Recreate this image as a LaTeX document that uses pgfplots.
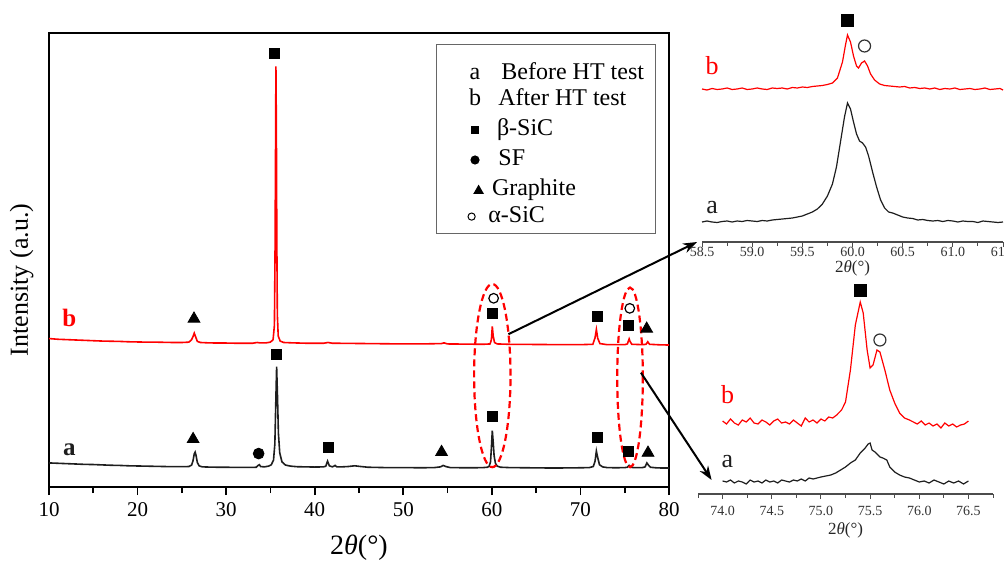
\documentclass[border=0pt]{standalone}
\usepackage{fontspec}
\setmainfont{Liberation Serif}
\usepackage{pgfplots}
\pgfplotsset{compat=1.18}
\usetikzlibrary{arrows.meta}

\definecolor{curvea}{RGB}{30,30,30}
\definecolor{curveb}{RGB}{255,0,0}

\tikzset{letter/.style={font=\fontsize{13}{15}\selectfont}}
\pgfplotsset{
  inset/.style={
    scale only axis, clip=false,
    axis x line*=bottom, axis y line=none,
    ymin=0, tick align=outside,
    major tick length=2.6pt, minor tick length=1.8pt,
    x axis line style={black!70, line width=0.6pt},
    every tick/.style={black!70, line width=0.5pt},
    /pgf/number format/assume math mode=true,
    /pgf/number format/fixed,
    /pgf/number format/fixed zerofill,
    /pgf/number format/precision=1,
    xticklabel style={font=\fontsize{7}{8}\selectfont, text=black!80},
    xlabel={2\textit{θ}(°)},
    xlabel style={font=\fontsize{8.5}{10}\selectfont, text=black!85},
  },
}

\begin{document}
\begin{tikzpicture}
\useasboundingbox (0,0) rectangle (502.5pt,281.5pt);

% ---------------- main pattern ----------------
\begin{axis}[
  at={(24.5pt,38pt)}, anchor=south west,
  scale only axis, width=310pt, height=227pt,
  xmin=10, xmax=80, ymin=0, ymax=1263,
  xtick={10,20,...,80}, minor x tick num=1, ytick=\empty,
  tick align=outside, xtick pos=left,
  major tick length=4pt, minor tick length=3pt,
  axis line style={line width=0.9pt},
  every tick/.style={black, line width=0.8pt},
  /pgf/number format/assume math mode=true,
  xticklabel style={font=\fontsize{10.5}{12}\selectfont},
  xlabel={2\textit{θ}(°)},
  xlabel style={font=\fontsize{14}{16}\selectfont, at={(axis description cs:0.5,-0.134)}, anchor=center},
  ylabel={Intensity (a.u.)},
  ylabel style={font=\fontsize{13}{15}\selectfont, at={(axis description cs:-0.044,0.456)}, anchor=center},
]
% a: before HT test
\addplot[curvea, line width=0.8pt] coordinates {
(10,67) (11,66) (12,65) (13,64) (14,63) (15,62.5) (16,61.5) (17,60.5) (18,60) (19,59)
(20,58.5) (21,58) (22,57.5) (23,57) (24,56.5) (25,56.5) (25.8,57) (26.1,61) (26.25,72)
(26.4,92) (26.5,97) (26.6,88) (26.75,68) (26.95,59) (27.3,56) (28,55.5) (29,55) (30,55)
(31,54.5) (32,54.5) (33,54.5) (33.4,55) (33.6,60) (33.75,62) (33.9,57) (34.3,56) (34.8,58)
(35.1,62) (35.35,75) (35.5,120) (35.6,230) (35.7,335) (35.8,250) (35.9,150) (36.05,95)
(36.3,70) (36.7,61) (37.3,58) (38,56.5) (39,56) (40,55.5) (41,56) (41.25,58) (41.45,72)
(41.65,59) (42,56) (42.3,60) (42.5,56) (43,56) (43.8,57) (44.5,59) (45.2,57) (46,55)
(47,54.5) (48,54) (50,54) (52,53.5) (53.5,54) (54.2,56) (54.5,60) (54.8,57) (55.3,54)
(57,53.5) (58,53.5) (59,54) (59.5,55) (59.7,58) (59.85,70) (59.95,110) (60.05,157)
(60.15,125) (60.25,88) (60.4,66) (60.6,58) (61,55) (62,54) (64,53.5) (66,53) (68,53)
(70,53.5) (71,54) (71.45,57) (71.65,72) (71.8,100) (71.95,82) (72.15,62) (72.5,56) (73,54)
(74,53.5) (75,54) (75.3,55) (75.5,60) (75.7,55) (76,54) (77,54) (77.3,56) (77.5,67)
(77.7,60) (77.9,55) (78.5,53.5) (79,53) (80,53)
};
% b: after HT test
\addplot[curveb, line width=0.8pt] coordinates {
(10,413) (11,411) (12,410) (13,409) (14,408) (15,407) (16,406) (17,405.5) (18,405) (19,404)
(20,403.5) (21,403) (22,403) (23,402.5) (24,402) (25,402) (25.8,403) (26.1,410) (26.25,418)
(26.4,428) (26.55,418) (26.75,405) (27.1,402) (28,401) (29,400.5) (30,400.5) (31,400)
(32,400) (33,400) (33.5,402) (33.8,401) (34.5,401) (35,403) (35.3,410) (35.45,450)
(35.52,650) (35.58,950) (35.62,1170) (35.67,1000) (35.72,700) (35.78,480) (35.88,420)
(36.1,406) (36.5,402) (37.5,401) (39,400) (41,400) (41.5,402) (42,400) (44,399.5) (46,399)
(48,398.5) (50,398) (52,398) (54.3,399) (54.6,401) (55,398) (57,397.5) (59,397) (59.8,398)
(59.95,410) (60.05,447) (60.15,420) (60.3,402) (60.6,398) (62,397) (65,396.5) (68,396)
(70,396) (71.4,397) (71.65,415) (71.8,438) (71.95,414) (72.2,399) (73,396) (75,396)
(75.3,398) (75.5,412) (75.6,405) (75.8,397) (77,396) (77.4,397) (77.6,404) (77.8,397)
(79,395.5) (80,395)
};
% phase markers
\addplot[only marks, mark=square*, black, mark size=2.5pt] coordinates {
(35.43,1205) (60.1,482) (71.94,475) (75.47,450)
(35.68,370) (41.52,110) (60.11,197) (71.94,138) (75.47,100)
};
\addplot[only marks, mark=triangle*, black, mark size=3.4pt] coordinates {
(26.37,468) (77.48,440) (26.27,133) (54.32,97) (77.63,95)
};
\addplot[only marks, mark=*, black, mark size=2.7pt] coordinates {(33.67,93)};
\addplot[only marks, mark=o, black, mark size=2.4pt, line width=0.6pt] coordinates {
(60.2,525) (75.57,497)
};
\node[font=\bfseries\fontsize{12.5}{14}\selectfont, text=curveb] at (axis cs:12.3,470) {b};
\node[font=\bfseries\fontsize{12.5}{14}\selectfont, text=curvea] at (axis cs:12.3,105) {a};
\draw[curveb, line width=1.1pt, dash pattern=on 3.5pt off 2pt]
  (axis cs:60.05,310) ellipse [x radius=9.1pt, y radius=45.8pt];
\draw[curveb, line width=1.1pt, dash pattern=on 3.5pt off 2pt]
  (axis cs:75.6,305) ellipse [x radius=6.4pt, y radius=44.9pt];
\coordinate (A1) at (axis cs:61.87,425);
\coordinate (A2) at (axis cs:76.83,318);
\end{axis}

% legend box
\draw[black!60, line width=0.5pt] (218pt,165pt) rectangle (327.5pt,259pt);
\begin{scope}[every node/.style={font=\fontsize{12}{14}\selectfont, inner sep=0pt, text height=1.6ex, text depth=0.3ex}]
\node at (237.5pt,244.8pt) {a};
\node[anchor=west] at (250.5pt,244.8pt) {Before HT test};
\node at (237.5pt,231.5pt) {b};
\node[anchor=west] at (249pt,231.5pt) {After HT test};
\fill (235.5pt,214.5pt) rectangle (239.5pt,218.5pt);
\node[anchor=west] at (248.3pt,216.5pt) {β-SiC};
\fill (237.5pt,201.5pt) circle (2.3pt);
\node[anchor=west] at (249pt,201.5pt) {SF};
\fill (236.6pt,184.5pt) -- (242pt,184.5pt) -- (239.3pt,189.2pt) -- cycle;
\node[anchor=west] at (245.8pt,186.5pt) {Graphite};
\draw[line width=0.5pt] (235.8pt,173.2pt) circle (1.8pt);
\node[anchor=west] at (244pt,173.2pt) {α-SiC};
\end{scope}

% arrows to the insets
\draw[-{Stealth[length=7pt,width=5pt]}, line width=1pt] (A1) -- (348.5pt,160.5pt);
\draw[-{Stealth[length=7pt,width=5pt]}, line width=1pt] (A2) -- (355.8pt,41.5pt);

% ---------------- inset 1: 58.5-61.5 ----------------
\begin{axis}[inset,
  at={(351pt,160.5pt)}, anchor=south west,
  width=150.5pt, height=121pt,
  xmin=58.5, xmax=61.5, ymax=242,
  xtick={58.5,59,...,61.5}, minor x tick num=1,
  xticklabel style={yshift=3.5pt},
  xlabel style={at={(axis description cs:0.5,-0.11)}, anchor=center},
]
\addplot[curveb, line width=0.6pt] coordinates {
(58.5,153) (58.55,152) (58.6,153.5) (58.65,152.5) (58.7,153) (58.75,154) (58.8,152.5)
(58.85,153) (58.9,154) (58.95,152.5) (59.0,153) (59.05,154) (59.1,153) (59.15,152.5)
(59.2,154) (59.25,153.5) (59.3,154) (59.35,153) (59.4,154.5) (59.45,154) (59.5,155)
(59.55,154.5) (59.6,155.5) (59.65,156) (59.7,156.5) (59.75,157.5) (59.8,159) (59.85,164)
(59.9,180) (59.93,197) (59.95,207) (59.98,200) (60.01,186) (60.04,176) (60.06,174)
(60.09,179) (60.12,181) (60.15,176) (60.18,168) (60.22,162) (60.27,158) (60.32,156.5)
(60.37,156) (60.42,155.5) (60.47,155) (60.52,155.5) (60.57,154) (60.62,154.5) (60.67,153.5)
(60.72,154) (60.77,153) (60.82,154) (60.87,152.5) (60.92,153.5) (60.97,153) (61.02,154)
(61.07,152.5) (61.12,153) (61.17,153.5) (61.22,152.5) (61.27,153) (61.32,154) (61.37,152.5)
(61.42,153) (61.47,153.5) (61.5,152)
};
\addplot[curvea, line width=0.6pt] coordinates {
(58.5,20) (58.55,21) (58.6,20) (58.65,19.5) (58.7,20.5) (58.75,21) (58.8,20) (58.85,21)
(58.9,20.5) (58.95,21.5) (59.0,21) (59.05,20.5) (59.1,21.5) (59.15,21) (59.2,22)
(59.25,22.5) (59.3,23) (59.35,23.5) (59.4,24) (59.45,25) (59.5,26) (59.55,28) (59.6,30)
(59.65,33) (59.7,38) (59.75,46) (59.8,58) (59.84,75) (59.88,100) (59.92,125) (59.95,139)
(59.98,133) (60.01,120) (60.04,108) (60.07,101) (60.1,99) (60.13,95) (60.16,86) (60.2,70)
(60.24,55) (60.28,42) (60.32,34) (60.36,30) (60.4,29) (60.45,27) (60.5,25) (60.55,24)
(60.6,23.5) (60.65,22) (60.7,22.5) (60.75,21.5) (60.8,21) (60.85,21.5) (60.9,20.5)
(60.95,21.5) (61.0,21) (61.05,20) (61.1,21) (61.15,20.5) (61.2,20.5) (61.25,19.5)
(61.3,21) (61.35,20.5) (61.4,20) (61.45,19.5) (61.5,20)
};
\addplot[only marks, mark=square*, black, mark size=3pt] coordinates {(59.95,222)};
\addplot[only marks, mark=o, black!80, mark size=3pt, line width=0.6pt] coordinates {(60.12,196)};
\node[letter, text=curveb] at (axis cs:58.6,176) {b};
\node[letter, text=curvea] at (axis cs:58.6,34) {a};
\end{axis}

% ---------------- inset 2: 74.0-76.5 ----------------
\begin{axis}[inset,
  at={(349pt,34.5pt)}, anchor=south west,
  width=147.5pt, height=107pt,
  xmin=73.75, xmax=76.75, ymax=214,
  xtick={74,74.5,...,76.5},
  minor xtick={73.75,74.25,74.75,75.25,75.75,76.25,76.75},
  xlabel style={at={(axis description cs:0.5,-0.17)}, anchor=center},
]
\addplot[curveb, line width=0.6pt] coordinates {
(74.0,73) (74.04,70) (74.08,75) (74.12,71) (74.16,69) (74.2,74) (74.24,72) (74.28,76)
(74.32,71) (74.36,70) (74.4,74) (74.44,72) (74.48,69) (74.52,73) (74.56,75) (74.6,71)
(74.64,72) (74.68,70) (74.72,74) (74.76,71) (74.8,68) (74.84,76) (74.88,72) (74.92,74)
(74.96,71) (75.0,75) (75.04,73) (75.08,77) (75.12,76) (75.16,79) (75.19,82) (75.21,84)
(75.25,92) (75.3,124) (75.35,169) (75.4,192) (75.43,181) (75.47,144) (75.5,126)
(75.53,129) (75.57,144) (75.6,142) (75.65,124) (75.7,104) (75.75,91) (75.8,81) (75.85,76)
(75.9,74) (75.94,72) (75.98,70) (76.02,73) (76.06,69) (76.1,71) (76.14,68) (76.18,70)
(76.22,66) (76.26,71) (76.3,68) (76.34,70) (76.38,67) (76.42,69) (76.46,70) (76.5,73)
};
\addplot[curvea, line width=0.6pt] coordinates {
(74.0,13) (74.04,12) (74.08,14) (74.12,11) (74.16,13) (74.2,12) (74.24,10) (74.28,14)
(74.32,12) (74.36,13) (74.4,11) (74.44,14) (74.48,12) (74.52,13) (74.56,11) (74.6,14)
(74.64,13) (74.68,12) (74.72,14) (74.76,13) (74.8,15) (74.84,13) (74.88,16) (74.92,15)
(74.96,16) (75.0,17) (75.05,18) (75.1,19) (75.15,21) (75.2,24) (75.25,27) (75.3,31)
(75.35,34) (75.4,41) (75.45,46) (75.48,50) (75.5,51) (75.52,44) (75.55,42) (75.6,37)
(75.63,36) (75.67,34) (75.7,27) (75.75,22) (75.8,19) (75.85,17) (75.9,16) (75.95,14)
(76.0,12) (76.05,13) (76.1,11) (76.15,14) (76.2,12) (76.25,10) (76.3,13) (76.35,11)
(76.4,13) (76.45,10) (76.5,13)
};
\addplot[only marks, mark=square*, black, mark size=3pt] coordinates {(75.40,204)};
\addplot[only marks, mark=o, black!80, mark size=3pt, line width=0.6pt] coordinates {(75.6,154)};
\node[letter, text=curveb] at (axis cs:74.05,99) {b};
\node[letter, text=curvea] at (axis cs:74.05,32) {a};
\end{axis}
\end{tikzpicture}
\end{document}
